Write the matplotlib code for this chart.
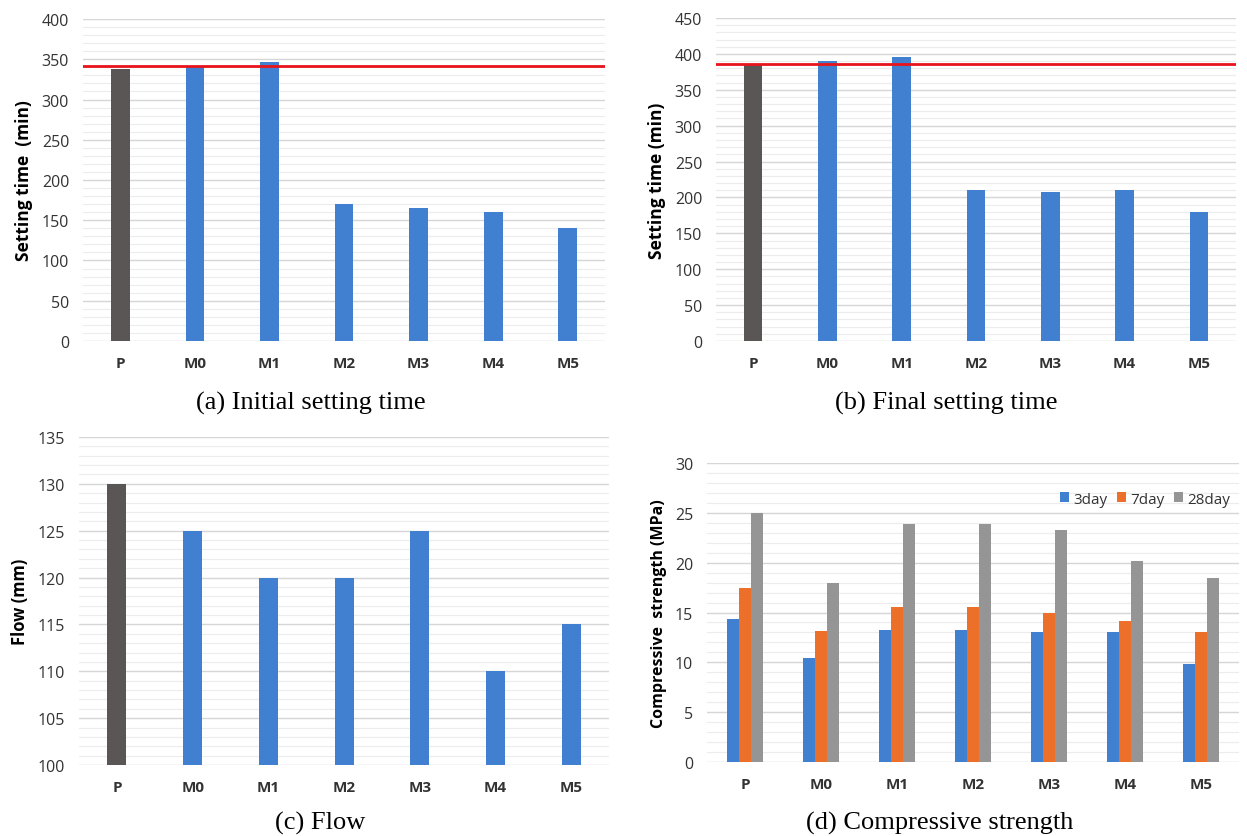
import numpy as np
import matplotlib
matplotlib.use('Agg')
import matplotlib.pyplot as plt
from matplotlib.ticker import MultipleLocator

mixes = ["P", "M0", "M1", "M2", "M3", "M4", "M5"]
initial_set = [338, 342, 346, 170, 165, 160, 140]
initial_ref = 342
final_set = [386, 390, 395, 210, 207, 210, 180]
final_ref = 386
flow = [130, 125, 120, 120, 125, 110, 115]
day3 = [14.4, 10.4, 13.2, 13.2, 13.0, 13.0, 9.8]
day7 = [17.5, 13.1, 15.6, 15.6, 15.0, 14.1, 13.0]
day28 = [25.0, 18.0, 23.9, 23.9, 23.3, 20.2, 18.5]
ages = ["3day", "7day", "28day"]

BLUE = "#4180d0"
DARK = "#5a5655"
ORANGE = "#ec6f2a"
GRAY = "#959595"
RED = "#e8141c"

plt.rcParams['font.family'] = ['Open Sans', 'DejaVu Sans']

fig = plt.figure(figsize=(12.47, 8.37), dpi=100)


def style(ax, ymin, ymax, major, minor, label, lsize=12):
    ax.set_ylim(ymin, ymax)
    ax.set_xlim(-0.5, len(mixes) - 0.5)
    ax.yaxis.set_major_locator(MultipleLocator(major))
    ax.yaxis.set_minor_locator(MultipleLocator(minor))
    ax.grid(axis='y', which='major', color='#d6d6d6', lw=1.0, zorder=0)
    ax.grid(axis='y', which='minor', color='#ececec', lw=0.8, zorder=0)
    ax.set_axisbelow(True)
    for s in ax.spines.values():
        s.set_visible(False)
    ax.tick_params(axis='both', which='both', length=0)
    ax.tick_params(axis='y', labelsize=11.5, pad=10, labelcolor='#333333')
    ax.tick_params(axis='x', labelsize=11, pad=11)
    ax.set_xticks(range(len(mixes)))
    ax.set_xticklabels(mixes, fontweight='bold', color='#333333')
    ax.set_ylabel(label, fontsize=lsize, fontweight='bold', labelpad=6)


def single(ax, vals):
    colors = [DARK] + [BLUE] * (len(vals) - 1)
    ax.bar(range(len(vals)), vals, width=0.25, color=colors, zorder=2)


# (a) initial setting
ax1 = fig.add_axes([0.0666, 0.5914, 0.4186, 0.3847])
single(ax1, initial_set)
ax1.axhline(initial_ref, color=RED, lw=2, zorder=3)
style(ax1, 0, 400, 50, 10, "Setting time  (min)", 12.5)

# (b) final setting
ax2 = fig.add_axes([0.5742, 0.5914, 0.417, 0.3859])
single(ax2, final_set)
ax2.axhline(final_ref, color=RED, lw=2, zorder=3)
style(ax2, 0, 450, 50, 10, "Setting time (min)", 12.5)

# (c) flow
ax3 = fig.add_axes([0.0634, 0.0848, 0.425, 0.3919])
ax3.bar(range(len(flow)), np.array(flow) - 100, bottom=100, width=0.25,
        color=[DARK] + [BLUE] * (len(flow) - 1), zorder=2)
style(ax3, 100, 135, 5, 1, "Flow (mm)")

# (d) compressive strength
ax4 = fig.add_axes([0.567, 0.0884, 0.4266, 0.3572])
x = np.arange(len(mixes))
w = 0.16
for i, (vals, c) in enumerate(zip([day3, day7, day28], [BLUE, ORANGE, GRAY])):
    ax4.bar(x + (i - 1) * w, vals, width=w, color=c, label=ages[i], zorder=2)
style(ax4, 0, 30, 5, 1, "Compressive  strength (MPa)", 11.5)
ax4.legend(loc='upper right', bbox_to_anchor=(1.01, 0.95), ncol=3, frameon=False,
           fontsize=11, handlelength=0.6, handleheight=0.6, handletextpad=0.3,
           columnspacing=0.6, labelcolor='#333333')

cap = dict(fontsize=19, family=['Liberation Serif', 'DejaVu Serif'], ha='center', va='center')
fig.text(311 / 1247, 1 - 403 / 837, "(a) Initial setting time", **cap)
fig.text(946 / 1247, 1 - 403 / 837, "(b) Final setting time", **cap)
fig.text(320 / 1247, 1 - 823 / 837, "(c) Flow", **cap)
fig.text(940 / 1247, 1 - 823 / 837, "(d) Compressive strength", **cap)

fig.savefig("out.png", dpi=100)
